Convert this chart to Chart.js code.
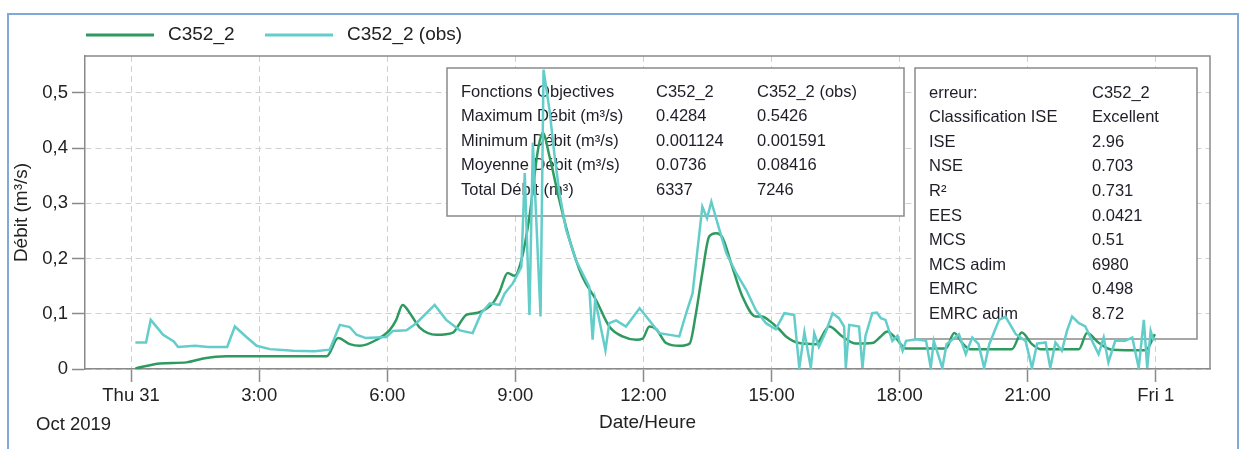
<!DOCTYPE html>
<html lang="fr">
<head>
    <meta charset="UTF-8">
    <title>Débit C352_2</title>
    <script src="https://cdn.jsdelivr.net/npm/chart.js"></script>
    <style>
        html, body { margin: 0; padding: 0; background: #fff; }
        .frame {
            position: absolute; left: 7px; top: 13px; width: 1232px; height: 460px;
            border: 2px solid #7eaadb; box-sizing: border-box;
        }
        #chart { position: absolute; left: 0; top: 0; }
    </style>
</head>
<body>
    <div class="frame"></div>
    <canvas id="chart" width="1248" height="449"></canvas>

    <script>
        // hours since Thu 31 Oct 2019 00:00
        const simHours = [0.1, 0.68, 1.3, 1.69, 2.24, 4.58, 4.85, 5.12, 5.36, 5.75, 6.06, 6.21, 6.36, 6.53, 6.76,
            7.15, 7.54, 7.7, 7.85, 8.12, 8.47, 8.63, 8.82, 8.98, 9.14, 9.33, 9.53, 9.64, 9.8, 10.03, 10.27,
            10.57, 10.89, 11.2, 11.51, 11.83, 11.98, 12.14, 12.3, 12.53, 12.84, 13.08, 13.23, 13.38, 13.54,
            13.7, 13.85, 14.08, 14.32, 14.63, 14.78, 14.94, 15.18, 15.34, 15.65, 16.04, 16.35, 16.66, 16.97,
            17.36, 17.56, 17.71, 17.91, 18.15, 19.08, 19.28, 19.47, 19.65, 20.63, 20.86, 21.1, 21.3, 22.2,
            22.39, 22.67, 22.97, 23.76, 23.98];
        const simDebit = [0.001, 0.010, 0.012, 0.019, 0.023, 0.023, 0.056, 0.045, 0.042, 0.053, 0.071, 0.089, 0.116, 0.101, 0.075,
            0.062, 0.066, 0.083, 0.098, 0.102, 0.119, 0.140, 0.174, 0.169, 0.197, 0.276, 0.397, 0.428, 0.385, 0.306, 0.234,
            0.167, 0.125, 0.077, 0.059, 0.053, 0.055, 0.077, 0.072, 0.047, 0.042, 0.046, 0.101, 0.174, 0.240,
            0.246, 0.238, 0.185, 0.131, 0.095, 0.095, 0.088, 0.072, 0.059, 0.047, 0.045, 0.077, 0.059, 0.046,
            0.047, 0.059, 0.068, 0.056, 0.037, 0.037, 0.065, 0.047, 0.036, 0.036, 0.066, 0.045, 0.036, 0.036,
            0.065, 0.047, 0.035, 0.034, 0.063];

        const obsHours = [0.1, 0.35, 0.46, 0.75, 1.0, 1.1, 1.5, 1.8, 2.25, 2.43, 2.7, 2.94, 3.25, 3.8, 4.3, 4.65,
            4.89, 5.12, 5.28, 5.5, 5.98, 6.13, 6.45, 6.68, 7.11, 7.38, 7.7, 8.0, 8.2, 8.4, 8.63, 8.75, 8.94,
            9.14, 9.22, 9.33, 9.41, 9.59, 9.66, 9.8, 9.92, 10.03, 10.19, 10.42, 10.73, 10.81, 10.87, 11.11,
            11.2, 11.36, 11.59, 11.91, 12.14, 12.37, 12.84, 13.0, 13.15, 13.38, 13.49, 13.59, 13.78, 13.94,
            14.17, 14.41, 14.63, 14.87, 15.1, 15.3, 15.53, 15.65, 15.77, 15.92, 16.0, 16.11, 16.27, 16.43,
            16.58, 16.7, 16.74, 16.82, 17.05, 17.13, 17.2, 17.36, 17.47, 17.56, 17.67, 17.83, 17.95, 18.07,
            18.15, 18.4, 18.62, 18.73, 18.8, 19.0, 19.1, 19.39, 19.55, 19.7, 19.85, 19.98, 20.1, 20.33,
            20.48, 20.72, 20.95, 21.1, 21.22, 21.42, 21.53, 21.65, 21.8, 21.92, 22.04, 22.2, 22.35, 22.47,
            22.66, 22.78, 22.89, 23.05, 23.28, 23.45, 23.6, 23.72, 23.8, 23.88, 23.95];
        const obsDebit = [0.048, 0.048, 0.089, 0.062, 0.050, 0.040, 0.042, 0.040, 0.040, 0.077, 0.058, 0.042, 0.036, 0.033, 0.032, 0.035,
            0.080, 0.076, 0.062, 0.056, 0.058, 0.069, 0.070, 0.083, 0.116, 0.089, 0.070, 0.065, 0.101, 0.119, 0.116, 0.137, 0.155,
            0.185, 0.355, 0.098, 0.410, 0.095, 0.542, 0.469, 0.385, 0.320, 0.252, 0.197, 0.149, 0.053, 0.125, 0.034,
            0.083, 0.088, 0.077, 0.110, 0.088, 0.065, 0.059, 0.101, 0.137, 0.294, 0.273, 0.303, 0.252, 0.210,
            0.174, 0.143, 0.107, 0.083, 0.072, 0.101, 0.098, 0.002, 0.067, 0.002, 0.065, 0.040, 0.067, 0.101,
            0.092, 0.077, 0.002, 0.080, 0.077, 0.002, 0.060, 0.101, 0.102, 0.092, 0.089, 0.051, 0.060, 0.033,
            0.051, 0.054, 0.051, 0.002, 0.051, 0.002, 0.045, 0.063, 0.027, 0.057, 0.045, 0.002, 0.045, 0.089,
            0.095, 0.063, 0.051, 0.002, 0.046, 0.048, 0.002, 0.048, 0.033, 0.069, 0.095, 0.083, 0.077, 0.057,
            0.027, 0.057, 0.012, 0.051, 0.051, 0.057, 0.002, 0.089, 0.002, 0.069, 0.051];

        const xTickHours = [0, 3, 6, 9, 12, 15, 18, 21, 24];
        const xTickLabels = ["Thu 31", "3:00", "6:00", "9:00", "12:00", "15:00", "18:00", "21:00", "Fri 1"];
        const dateLabel = "Oct 2019";

        const statsTable = [
            ["Fonctions Objectives", "C352_2", "C352_2 (obs)"],
            ["Maximum Débit (m³/s)", "0.4284", "0.5426"],
            ["Minimum Débit (m³/s)", "0.001124", "0.001591"],
            ["Moyenne Débit (m³/s)", "0.0736", "0.08416"],
            ["Total Débit (m³)", "6337", "7246"]
        ];
        const errorTable = [
            ["erreur:", "C352_2"],
            ["Classification ISE", "Excellent"],
            ["ISE", "2.96"],
            ["NSE", "0.703"],
            ["R²", "0.731"],
            ["EES", "0.0421"],
            ["MCS", "0.51"],
            ["MCS adim", "6980"],
            ["EMRC", "0.498"],
            ["EMRC adim", "8.72"]
        ];

        const FONT = "'Liberation Sans', Arial, sans-serif";
        const simColor = "#2f9a5f";
        const obsColor = "#63cdca";
        const axisGray = "#8a8a8a";

        function toPoints(xs, ys) {
            return xs.map((x, i) => ({ x: x, y: ys[i] }));
        }

        // draws a white table box with a grey frame
        function drawTable(ctx, box, rows, cols, rowStep) {
            ctx.save();
            ctx.fillStyle = "#fff";
            ctx.fillRect(box.x, box.y, box.w, box.h);
            ctx.strokeStyle = axisGray;
            ctx.lineWidth = 1.5;
            ctx.strokeRect(box.x, box.y, box.w, box.h);
            ctx.fillStyle = "#1e1e28";
            ctx.font = "16.5px " + FONT;
            ctx.textBaseline = "middle";
            ctx.textAlign = "left";
            rows.forEach((row, r) => {
                row.forEach((txt, c) => {
                    ctx.fillText(txt, box.x + cols[c], box.y + box.first + r * rowStep);
                });
            });
            ctx.restore();
        }

        const boxesPlugin = {
            id: "boxes",
            beforeDatasetsDraw(chart) {
                const ctx = chart.ctx;
                drawTable(ctx, { x: 447, y: 68, w: 457, h: 148, first: 24 }, statsTable, [14, 209, 310], 24.5);
                drawTable(ctx, { x: 915, y: 68, w: 282, h: 271, first: 25 }, errorTable, [14, 177], 24.6);
            },
            afterDraw(chart) {
                const ctx = chart.ctx;
                const a = chart.chartArea;
                ctx.save();
                // top and right edges of the plot frame
                ctx.strokeStyle = axisGray;
                ctx.lineWidth = 1.5;
                ctx.beginPath();
                ctx.moveTo(a.left, a.top);
                ctx.lineTo(a.right, a.top);
                ctx.lineTo(a.right, a.bottom);
                ctx.stroke();

                // legend
                ctx.font = "19px " + FONT;
                ctx.textBaseline = "middle";
                ctx.fillStyle = "#222";
                const legendX = [86, 265];
                chart.data.datasets.forEach((ds, i) => {
                    const x = legendX[i];
                    ctx.strokeStyle = ds.borderColor;
                    ctx.lineWidth = 3;
                    ctx.beginPath();
                    ctx.moveTo(x, 35);
                    ctx.lineTo(x + 68, 35);
                    ctx.stroke();
                    ctx.fillText(ds.label, x + 82, 35);
                });

                // date under the first tick
                ctx.font = "18.5px " + FONT;
                ctx.fillText(dateLabel, 36, 425);
                ctx.restore();
            }
        };

        new Chart(document.getElementById("chart"), {
            type: "line",
            data: {
                datasets: [
                    {
                        label: "C352_2",
                        data: toPoints(simHours, simDebit),
                        borderColor: simColor,
                        borderWidth: 2.5,
                        pointRadius: 0,
                        cubicInterpolationMode: "monotone",
                        order: 1
                    },
                    {
                        label: "C352_2 (obs)",
                        data: toPoints(obsHours, obsDebit),
                        borderColor: obsColor,
                        borderWidth: 2.5,
                        pointRadius: 0,
                        tension: 0,
                        order: 0
                    }
                ]
            },
            options: {
                responsive: false,
                animation: false,
                devicePixelRatio: 1,
                layout: { padding: { top: 56, right: 38, left: 0, bottom: 0 } },
                plugins: { legend: { display: false }, tooltip: { enabled: false } },
                scales: {
                    x: {
                        type: "linear",
                        min: -1.08,
                        max: 25.27,
                        afterBuildTicks: s => { s.ticks = xTickHours.map(v => ({ value: v })); },
                        afterFit: s => { s.height = 80; },
                        ticks: {
                            autoSkip: false,
                            maxRotation: 0,
                            padding: 3,
                            color: "#222",
                            font: { family: FONT, size: 18.5 },
                            callback: v => xTickLabels[xTickHours.indexOf(v)]
                        },
                        grid: { color: "#d0d0d0", lineWidth: 1, tickLength: 13, tickColor: axisGray, tickWidth: 1.5 },
                        border: { display: true, color: axisGray, width: 1.5, dash: [6, 4] },
                        title: {
                            display: true, text: "Date/Heure", color: "#222",
                            font: { family: FONT, size: 19 }, padding: { top: 0, bottom: 14.6 }
                        }
                    },
                    y: {
                        min: 0,
                        max: 0.567,
                        afterFit: s => { s.width = 85; },
                        ticks: {
                            stepSize: 0.1,
                            includeBounds: false,
                            padding: 4,
                            color: "#222",
                            font: { family: FONT, size: 18.5 },
                            callback: v => v === 0 ? "0" : v.toFixed(1).replace(".", ",")
                        },
                        grid: { color: "#d0d0d0", lineWidth: 1, tickLength: 13, tickColor: axisGray, tickWidth: 1.5 },
                        border: { display: true, color: axisGray, width: 1.5, dash: [6, 4] },
                        title: {
                            display: true, text: "Débit (m³/s)", color: "#222",
                            font: { family: FONT, size: 19 }, padding: { top: 10.6, bottom: 0 }
                        }
                    }
                }
            },
            plugins: [boxesPlugin]
        });
    </script>
</body>
</html>
